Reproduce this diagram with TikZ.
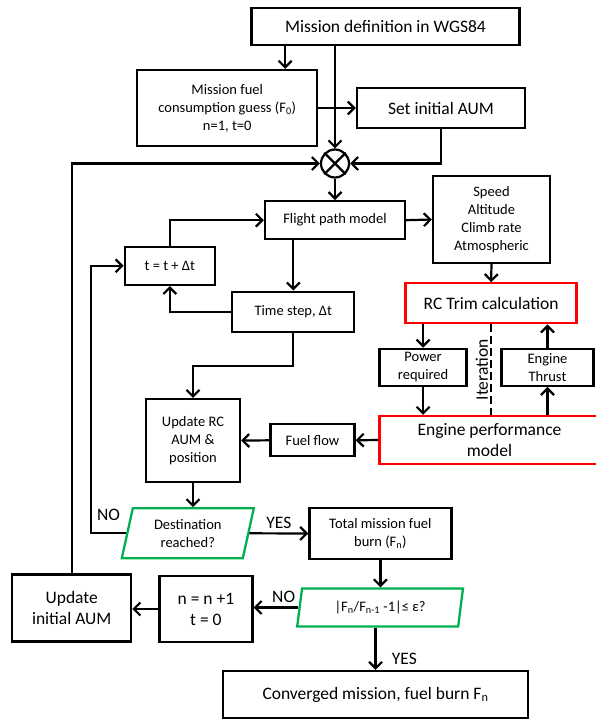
\documentclass[tikz,border=0pt]{standalone}
\usepackage{fontspec}
\setmainfont{Carlito}
\usetikzlibrary{arrows.meta,shapes.geometric}

\definecolor{trimred}{RGB}{255,0,0}
\definecolor{decgreen}{RGB}{0,176,80}

\newcommand{\medfont}{\fontsize{14.5}{18}\selectfont}
\newcommand{\bigfont}{\fontsize{17.5}{21}\selectfont}

\tikzset{
  box/.style={draw, line width=2.3pt, align=center, inner sep=2pt, font=\medfont},
  bigbox/.style={box, font=\bigfont},
  redbox/.style={box, draw=trimred, font=\bigfont},
  decbox/.style={trapezium, trapezium stretches=true, draw=decgreen,
    line width=2.3pt, align=center, inner sep=1pt, font=\medfont},
  line/.style={line width=2.2pt, ->},
  >={Straight Barb[length=6.5pt,width=13pt]},
}

\begin{document}
\begin{tikzpicture}[x=1pt, y=-1pt]
    \useasboundingbox (0,0) rectangle (595,720);

    % Top: mission set-up
    \node[bigbox, minimum width=268pt, minimum height=37pt] (def) at (385.5,26.2) {Mission definition in WGS84};
    \node[box, minimum width=180pt, minimum height=76pt] (fuel) at (227.2,108) {Mission fuel\\consumption guess (F\textsubscript{0})\\n=1, t=0};
    \node[bigbox, minimum width=168pt, minimum height=40pt] (aum) at (441,108) {Set initial AUM};
    \node[draw, circle, line width=2.2pt, minimum size=28pt, inner sep=0pt] (circ) at (335,163.5) {};
    \draw[line width=2.2pt] (circ.45) -- (circ.225) (circ.135) -- (circ.315);

    % Time loop
    \node[box, minimum width=140pt, minimum height=38pt] (fpm) at (335,220.2) {Flight path model};
    \node[box, minimum width=117pt, minimum height=87pt] (spd) at (491.5,219.5) {Speed\\Altitude\\Climb rate\\Atmospheric};
    \node[box, minimum width=90pt, minimum height=38pt] (tupd) at (169.8,265.8) {t = t + Δt};
    \node[box, minimum width=122pt, minimum height=40pt] (dt) at (293.3,311.7) {Time step, Δt};
    \node[redbox, minimum width=171pt, minimum height=40pt] (trim) at (491.1,303.3) {RC Trim calculation};
    \node[box, minimum width=87pt, minimum height=37pt] (pwr) at (423.1,367.3) {Power\\required};
    \node[box, minimum width=92pt, minimum height=37pt] (thr) at (547.5,367.3) {Engine\\Thrust};
    \node[redbox, minimum width=220pt, minimum height=48pt] (eng) at (489.5,440) {Engine performance\\model};
    \node[box, minimum width=94pt, minimum height=83pt] (upd) at (193,440.6) {Update RC\\AUM \&\\position};
    \node[box, minimum width=84pt, minimum height=32pt] (ffl) at (312.5,440.3) {Fuel flow};

    % Convergence check
    \node[decbox, trapezium left angle=77, trapezium right angle=103, minimum width=133pt, minimum height=50pt] (dest) at (187.8,533.3) {Destination\\reached?};
    \node[box, minimum width=142pt, minimum height=51pt] (tot) at (380.4,533.5) {Total mission fuel\\burn (F\textsubscript{n})};
    \node[decbox, trapezium left angle=79, trapezium right angle=101, minimum width=166pt, minimum height=38pt] (conv) at (380.1,607.5) {|F\textsubscript{n}/F\textsubscript{n-1} -1|≤ ε?};
    \node[bigbox, minimum width=93pt, minimum height=66pt] (inc) at (205.9,609) {n = n +1\\t = 0};
    \node[bigbox, minimum width=119pt, minimum height=67pt] (uaum) at (71.7,608) {Update\\initial AUM};
    \node[bigbox, minimum width=305pt, minimum height=47pt] (fin) at (375.5,694.5) {Converged mission, fuel burn F\textsubscript{n}};

    % Connectors
    \coordinate (a1) at ([xshift=58pt]fuel.north);
    \draw[line] (a1 |- def.south) -- (a1);
    \draw[line] (def.south -| circ) -- (circ.north);
    \draw[line] (fuel.east) -- (aum.west);
    \draw[line] (aum.south) |- (circ.east);
    \draw[line] (uaum.north) |- (circ.west);
    \draw[line] (circ.south) -- (fpm.north);
    \draw[line] (fpm.east) -- (spd.west);
    \draw[line] (spd.south) -- (trim.north);
    \draw[line] (tupd.north) |- (fpm.west);
    \draw[line] (dt.north |- fpm.south) -- (dt.north);
    \draw[line] (dt.west) -| (tupd.south);
    \draw[line] (dt.south) -- ++(0,33) -| (upd.north);
    \draw[line] (pwr.north |- trim.south) -- (pwr.north);
    \draw[line] (pwr.south) -- (pwr.south |- eng.north);
    \draw[line] (thr.south |- eng.north) -- (thr.south);
    \draw[line] (thr.north) -- (thr.north |- trim.south);
    \draw[line width=2.2pt, dash pattern=on 8pt off 4pt] (trim.south) -- (trim.south |- eng.north)
        node[midway, rotate=90, above, inner sep=2pt, font=\bigfont] {Iteration};
    \draw[line] (eng.west) -- (ffl.east);
    \draw[line] (ffl.west) -- (upd.east);
    \draw[line] (upd.south) -- (upd.south |- dest.north);
    \draw[line] (dest.west) -- ++(-35,0) node[midway, above, yshift=8pt, font=\bigfont] {NO} |- (tupd.west);
    \draw[line] (dest.east) -- (tot.west) node[midway, above, font=\bigfont] {YES};
    \draw[line] (tot.south) -- (tot.south |- conv.north);
    \draw[line] (conv.west) -- (conv.west -| inc.east) node[pos=0.33, above, font=\bigfont] {NO};
    \draw[line] (inc.west) -- (inc.west -| uaum.east);
    \draw[line] (conv.south -| fin.north) -- (fin.north) node[pos=0.75, right=12pt, font=\bigfont] {YES};

\end{tikzpicture}
\end{document}
